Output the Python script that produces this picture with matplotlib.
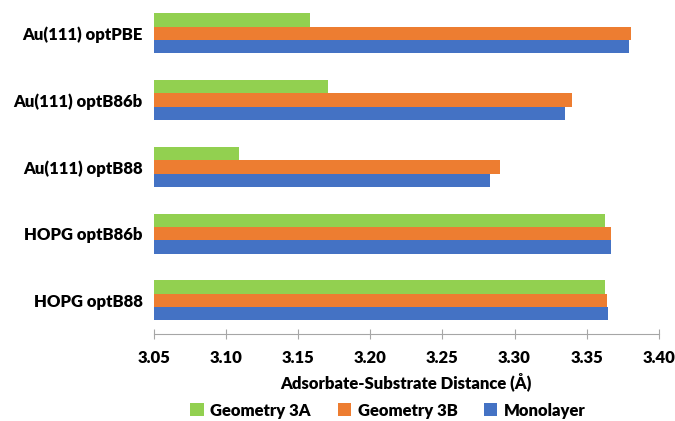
import matplotlib
matplotlib.use("Agg")
import matplotlib.pyplot as plt
import numpy as np

categories = ["HOPG optB88", "HOPG optB86b", "Au(111) optB88", "Au(111) optB86b", "Au(111) optPBE"]
geom3a = [3.363, 3.363, 3.109, 3.171, 3.158]
geom3b = [3.364, 3.367, 3.290, 3.340, 3.381]
monolayer = [3.365, 3.367, 3.283, 3.335, 3.379]
series_names = ["Geometry 3A", "Geometry 3B", "Monolayer"]
colors = ["#92D050", "#ED7D31", "#4472C4"]
xticks = [3.05, 3.10, 3.15, 3.20, 3.25, 3.30, 3.35, 3.40]

plt.rcParams['font.family'] = ['Lato', 'DejaVu Sans']
plt.rcParams['font.weight'] = 'bold'

fig = plt.figure(figsize=(6.75, 4.21), dpi=100)
ax = fig.add_axes([0.228, 0.207, 0.748, 0.793])

base = 3.05
y = np.arange(len(categories))
h = 0.2
for vals, off, c, name in [(monolayer, -h, colors[2], series_names[2]),
                           (geom3b, 0, colors[1], series_names[1]),
                           (geom3a, h, colors[0], series_names[0])]:
    ax.barh(y + off, np.array(vals) - base, height=h, left=base, color=c, label=name)

fs = 12
ax.set_xlim(3.05, 3.40)
ax.set_ylim(-0.5, len(categories) - 0.5)
ax.set_xticks(xticks)
ax.set_xticklabels([f"{t:.2f}" for t in xticks], fontsize=fs, fontweight='heavy')
ax.set_yticks(y)
ax.set_yticklabels(categories, fontsize=fs, fontweight='heavy')
ax.tick_params(axis='y', length=0, pad=8)
ax.tick_params(axis='x', direction='inout', length=7, color='#A6A6A6', pad=8)
for s in ['top', 'right', 'left']:
    ax.spines[s].set_visible(False)
ax.spines['bottom'].set_color('#A6A6A6')
ax.set_xlabel("Adsorbate-Substrate Distance (Å)", fontsize=fs, fontweight='heavy', labelpad=5)

handles, labels = ax.get_legend_handles_labels()
order = [2, 1, 0]
fig.legend([handles[i] for i in order], [labels[i] for i in order],
           loc='lower center', bbox_to_anchor=(0.575, -0.03), ncol=3, frameon=False,
           prop={'size': fs, 'weight': 'heavy'}, handlelength=0.8, handleheight=0.8,
           columnspacing=1.6, handletextpad=0.4)

fig.savefig("out.png", dpi=100)
